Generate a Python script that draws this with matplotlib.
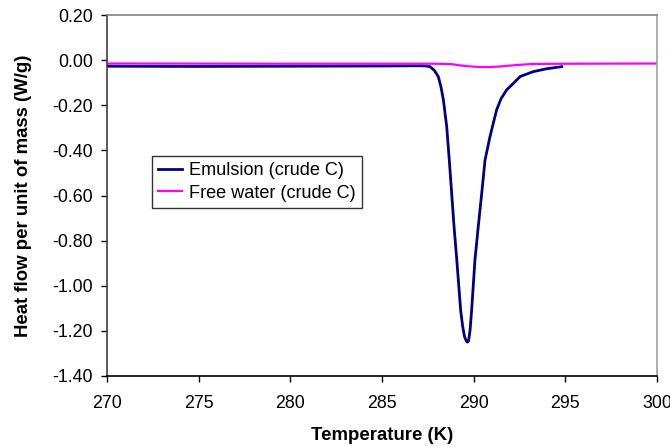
import matplotlib
matplotlib.use("Agg")
import matplotlib.pyplot as plt

plt.rcParams['font.family'] = ['Liberation Sans', 'DejaVu Sans']
plt.rcParams['axes.unicode_minus'] = False

# Emulsion (crude C)
emul_T = [270.0, 275.0, 280.0, 285.0, 287.0, 287.4, 287.62, 287.85, 288.07, 288.22,
          288.35, 288.53, 288.67, 288.80, 288.93, 289.08, 289.22, 289.29, 289.40,
          289.50, 289.60, 289.66, 289.72, 289.80, 289.89, 290.07, 290.25, 290.44,
          290.62, 290.89, 291.25, 291.50, 291.80, 292.35, 292.53, 293.25, 294.0, 294.8]
emul_Q = [-0.027, -0.028, -0.027, -0.026, -0.025, -0.026, -0.029, -0.045, -0.073, -0.120,
          -0.177, -0.295, -0.443, -0.590, -0.738, -0.886, -1.034, -1.108, -1.180,
          -1.225, -1.245, -1.250, -1.245, -1.200, -1.108, -0.886, -0.738, -0.590,
          -0.443, -0.339, -0.221, -0.170, -0.132, -0.088, -0.073, -0.051, -0.038, -0.029]

# Free water (crude C)
free_T = [270.0, 280.0, 285.0, 288.0, 288.8, 289.5, 290.2, 290.8, 291.5, 292.3,
          293.2, 295.0, 300.0]
free_Q = [-0.015, -0.016, -0.016, -0.016, -0.018, -0.026, -0.030, -0.031, -0.028,
          -0.022, -0.017, -0.016, -0.015]

x_ticks = [270, 275, 280, 285, 290, 295, 300]
y_ticks = [0.20, 0.00, -0.20, -0.40, -0.60, -0.80, -1.00, -1.20, -1.40]

fig = plt.figure(figsize=(6.7, 4.47), dpi=100)
ax = fig.add_axes([107/670, 1-376/447, 550/670, 361/447])

ax.plot(emul_T, emul_Q, color='#000080', lw=2.0, label='Emulsion (crude C)', solid_joinstyle='round')
ax.plot(free_T, free_Q, color='#FF00FF', lw=1.6, label='Free water (crude C)', solid_joinstyle='round')

ax.set_xlim(270, 300)
ax.set_ylim(-1.40, 0.20)
ax.set_xticks(x_ticks)
ax.set_xticklabels([str(t) for t in x_ticks])
ax.set_yticks(y_ticks)
ax.set_yticklabels(['%.2f' % v for v in y_ticks])
ax.tick_params(axis='both', direction='out', length=4.5, width=1, labelsize=12.8, colors='black')
ax.tick_params(axis='x', pad=9)
ax.tick_params(axis='y', pad=5.5)

ax.spines['left'].set_color('#404040')
ax.spines['bottom'].set_color('black')
ax.spines['top'].set_color('#808080')
ax.spines['right'].set_color('#a0a0a0')
for s in ax.spines.values():
    s.set_linewidth(1.2)

ax.set_xlabel('Temperature (K)', fontsize=13.4, fontweight='bold', labelpad=11)
ax.set_ylabel('Heat flow per unit of mass (W/g)', fontsize=13.4, fontweight='bold', labelpad=15)

leg = ax.legend(loc='lower left', bbox_to_anchor=(45/550, 168/361), borderaxespad=0,
                fontsize=13.1, frameon=True, fancybox=False, edgecolor='black',
                handlelength=1.3, handletextpad=0.4, borderpad=0.35, labelspacing=0.3)
leg.get_frame().set_linewidth(1.0)

fig.savefig('out.png', dpi=100)
